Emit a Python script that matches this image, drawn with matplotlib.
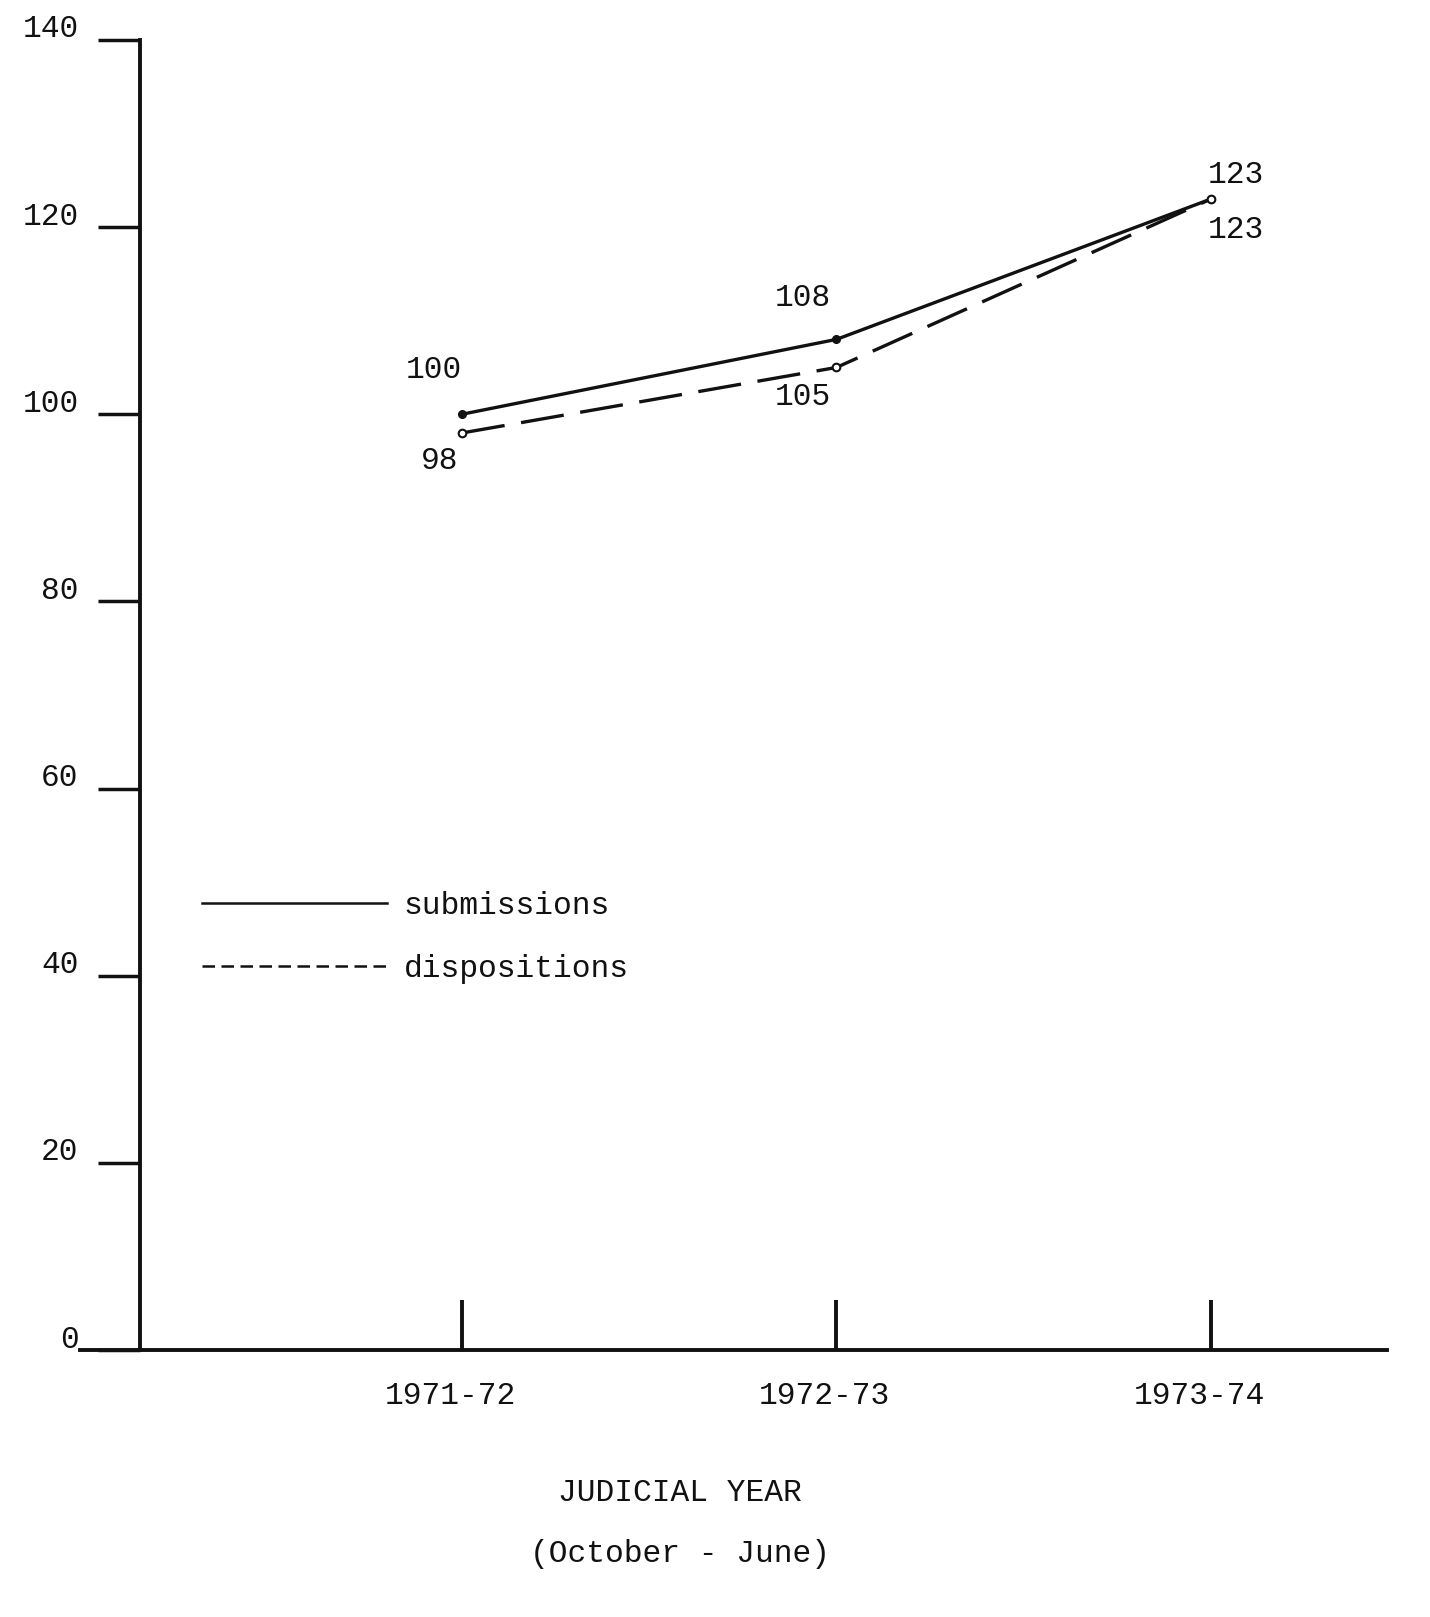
import matplotlib.pyplot as plt
from matplotlib.lines import Line2D
from matplotlib.transforms import ScaledTranslation

# data
years = ["1971-72", "1972-73", "1973-74"]
submissions = [100, 108, 123]
dispositions = [98, 105, 123]
yticks = [0, 20, 40, 60, 80, 100, 120, 140]

plt.rcParams['font.family'] = ['Liberation Mono', 'DejaVu Sans Mono']
fs = 22.5
ink = '#111111'

fig = plt.figure(figsize=(14.3, 16.17), dpi=100)
ax = fig.add_axes([0.0559, 0.1651, 0.914, 0.8102])

xs = [1, 2, 3]
ax.plot(xs, submissions, color=ink, lw=2.4, marker='o', ms=5.5, mfc=ink)
ax.plot(xs, dispositions, color=ink, lw=2.4, marker='o', ms=5.5, mfc='white',
        mew=1.5, dashes=(13, 5))

ax.set_xlim(-0.02, 3.47)
ax.set_ylim(0, 140)

for s in ['top', 'right']:
    ax.spines[s].set_visible(False)
ax.spines['left'].set_position(('data', 0.14))
ax.spines['left'].set_linewidth(2.8)
ax.spines['bottom'].set_linewidth(2.8)
ax.spines['left'].set_color(ink)
ax.spines['bottom'].set_color(ink)

ax.set_yticks(yticks)
ax.set_yticklabels([str(v) for v in yticks], fontsize=fs, color=ink)
ax.tick_params(axis='y', direction='out', length=30, width=2.5, pad=14, color=ink)
for lab in ax.get_yticklabels():
    lab.set_transform(lab.get_transform() + ScaledTranslation(0, 0.14, fig.dpi_scale_trans))

ax.set_xticks(xs)
ax.set_xticklabels(years, fontsize=fs, color=ink)
ax.tick_params(axis='x', direction='in', length=36, width=2.8, pad=22, color=ink)
for lab in ax.get_xticklabels():
    lab.set_transform(lab.get_transform() + ScaledTranslation(-0.12, 0, fig.dpi_scale_trans))

# point labels
sub_off = [(-20, 32), (-24, 30), (18, 17)]
dis_off = [(-16, -20), (-24, -21), (18, -22)]
for x, v, o in zip(xs, submissions, sub_off):
    ax.annotate(str(v), (x, v), xytext=o, textcoords='offset points',
                ha='center', va='center', fontsize=fs, color=ink)
for x, v, o in zip(xs, dispositions, dis_off):
    ax.annotate(str(v), (x, v), xytext=o, textcoords='offset points',
                ha='center', va='center', fontsize=fs, color=ink)

handles = [Line2D([], [], color=ink, lw=1.8),
           Line2D([], [], color=ink, lw=1.8, dashes=(5, 2.6))]
ax.legend(handles, ['submissions', 'dispositions'], loc='upper left',
          bbox_to_anchor=(0.072, 0.372), frameon=False, fontsize=fs,
          handlelength=5.9, handletextpad=0.55, labelspacing=1.05,
          labelcolor=ink)

ax.set_xlabel("JUDICIAL YEAR\n(October - June)", fontsize=fs, color=ink,
              linespacing=2.35)
ax.xaxis.set_label_coords(0.459, -0.098)
ax.xaxis.label.set_va('top')

fig.savefig("out.png", dpi=100)
